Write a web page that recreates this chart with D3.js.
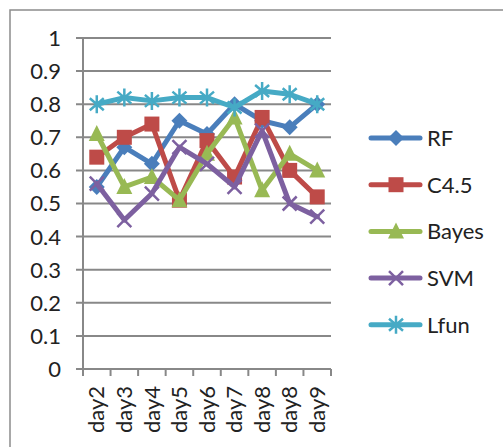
<!DOCTYPE html>
<html>
<head>
<meta charset="utf-8">
<script src="https://cdn.jsdelivr.net/npm/d3@7"></script>
<style>
  body { margin: 0; background: #fff; }
  svg text { font-family: Lato, "Open Sans", sans-serif; fill: #222; }
</style>
</head>
<body>
<div id="chart"></div>
<script>
var days = ["day2", "day3", "day4", "day5", "day6", "day7", "day8", "day8", "day9"];
var rf    = [0.55, 0.67, 0.62, 0.75, 0.71, 0.80, 0.75, 0.73, 0.80];
var c45   = [0.64, 0.70, 0.74, 0.51, 0.69, 0.58, 0.76, 0.60, 0.52];
var bayes = [0.71, 0.55, 0.58, 0.51, 0.65, 0.76, 0.54, 0.65, 0.60];
var svm   = [0.56, 0.45, 0.53, 0.67, 0.62, 0.55, 0.72, 0.50, 0.46];
var lfun  = [0.80, 0.82, 0.81, 0.82, 0.82, 0.79, 0.84, 0.83, 0.80];
var yTicks = [0, 0.1, 0.2, 0.3, 0.4, 0.5, 0.6, 0.7, 0.8, 0.9, 1];

var series = [
  { name: "RF", values: rf, color: "#4a7ebb", marker: "diamond" },
  { name: "C4.5", values: c45, color: "#be4b48", marker: "square" },
  { name: "Bayes", values: bayes, color: "#98b954", marker: "triangle" },
  { name: "SVM", values: svm, color: "#7d60a0", marker: "x" },
  { name: "Lfun", values: lfun, color: "#46aac5", marker: "star" }
];

var W = 503, H = 447;
var margin = { top: 38, left: 83 },
    width = 248, height = 331;

var svg = d3.select("#chart").append("svg")
  .attr("width", W).attr("height", H);

// outer chart frame
svg.append("rect")
  .attr("x", 10).attr("y", 10)
  .attr("width", W + 20).attr("height", H + 20)
  .attr("fill", "#fff").attr("stroke", "#8c8c8c").attr("stroke-width", 1.5);

var g = svg.append("g").attr("transform", "translate(" + margin.left + "," + margin.top + ")");

var x = d3.scaleBand().domain(d3.range(days.length)).range([0, width]).padding(0);
var y = d3.scaleLinear().domain([0, 1]).range([height, 0]);

// gridlines
g.selectAll(".grid").data(yTicks).enter().append("line")
  .attr("x1", -7).attr("x2", width)
  .attr("y1", function (d) { return y(d); })
  .attr("y2", function (d) { return y(d); })
  .attr("stroke", "#888").attr("stroke-width", 2);

// y labels
g.selectAll(".ylab").data(yTicks).enter().append("text")
  .attr("x", -22).attr("y", function (d) { return y(d); })
  .attr("dy", "0.36em")
  .attr("text-anchor", "end")
  .style("font-size", "22px")
  .text(function (d) { return d; });

// y axis line
g.append("line").attr("x1", 0).attr("x2", 0).attr("y1", 0).attr("y2", height)
  .attr("stroke", "#888").attr("stroke-width", 2);

// x tick marks at category boundaries
g.selectAll(".xtick").data(d3.range(days.length + 1)).enter().append("line")
  .attr("x1", function (i) { return i * x.bandwidth(); })
  .attr("x2", function (i) { return i * x.bandwidth(); })
  .attr("y1", height).attr("y2", height + 7)
  .attr("stroke", "#888").attr("stroke-width", 2);

// x labels
g.selectAll(".xlab").data(days).enter().append("text")
  .attr("transform", function (d, i) {
    return "translate(" + (x(i) + x.bandwidth() / 2) + "," + (height + 17) + ") rotate(-90)";
  })
  .attr("dy", "0.35em")
  .attr("text-anchor", "end")
  .style("font-size", "22px")
  .text(function (d) { return d; });

function drawMarker(sel, type, color) {
  if (type === "diamond") {
    sel.append("path").attr("d", "M0,-8L8,0L0,8L-8,0Z").attr("fill", color);
  } else if (type === "square") {
    sel.append("rect").attr("x", -7.5).attr("y", -7.5).attr("width", 15).attr("height", 15).attr("fill", color);
  } else if (type === "triangle") {
    sel.append("path").attr("d", "M0,-9L8,7L-8,7Z").attr("fill", color);
  } else if (type === "x") {
    sel.append("path").attr("d", "M-7,-7L7,7M-7,7L7,-7").attr("stroke", color).attr("stroke-width", 2.5);
  } else {
    sel.append("path").attr("d", "M-7,-6L7,6M-7,6L7,-6M0,-9L0,9").attr("stroke", color).attr("stroke-width", 2.5);
  }
}

var line = d3.line()
  .x(function (d, i) { return x(i) + x.bandwidth() / 2; })
  .y(function (d) { return y(d); });

series.forEach(function (s) {
  g.append("path").datum(s.values)
    .attr("d", line)
    .attr("fill", "none")
    .attr("stroke", s.color)
    .attr("stroke-width", 5)
    .attr("stroke-linejoin", "round")
    .attr("stroke-linecap", "round");
  s.values.forEach(function (v, i) {
    var m = g.append("g")
      .attr("transform", "translate(" + (x(i) + x.bandwidth() / 2) + "," + y(v) + ")");
    drawMarker(m, s.marker, s.color);
  });
});

// legend
var legend = svg.append("g").attr("transform", "translate(371,138)");
series.forEach(function (s, i) {
  var row = legend.append("g").attr("transform", "translate(0," + (i * 46.7) + ")");
  row.append("line").attr("x1", 0).attr("x2", 49)
    .attr("stroke", s.color).attr("stroke-width", 5).attr("stroke-linecap", "round");
  var m = row.append("g").attr("transform", "translate(25,0)");
  drawMarker(m, s.marker, s.color);
  row.append("text").attr("x", 56).attr("dy", "0.36em")
    .style("font-size", "22px").text(s.name);
});
</script>
</body>
</html>
